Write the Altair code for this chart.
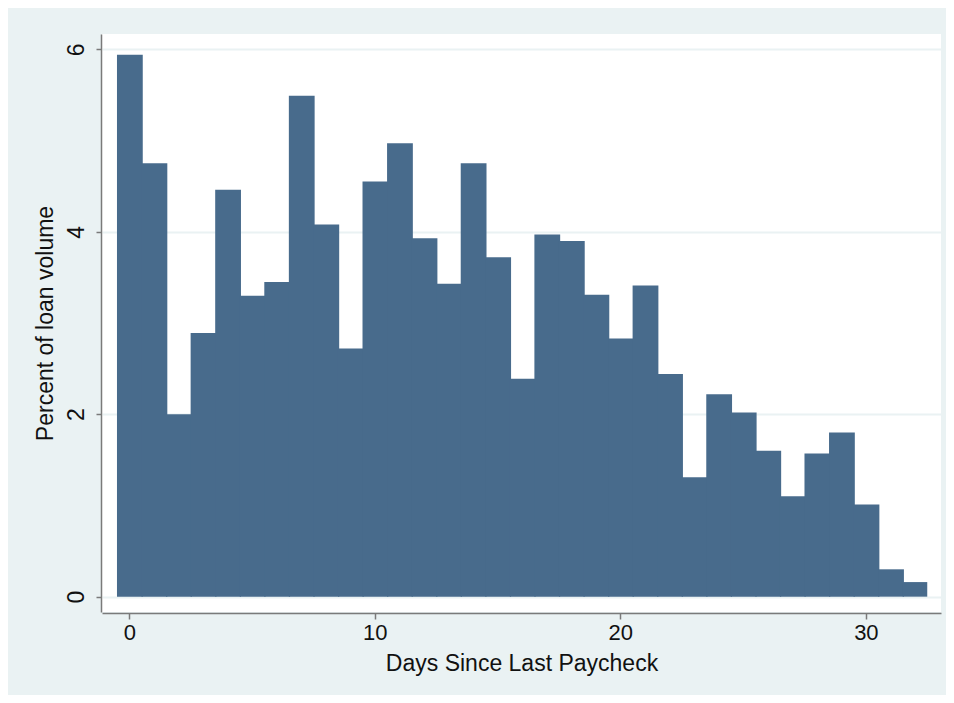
import altair as alt
import pandas as pd

# Days since last paycheck (histogram bins, width 1 day)
days = [0, 1, 2, 3, 4, 5, 6, 7, 8, 9, 10, 11, 12, 13, 14, 15, 16,
        17, 18, 19, 20, 21, 22, 23, 24, 25, 26, 27, 28, 29, 30, 31, 32]
# Percent of loan volume per day
pct = [5.94, 4.75, 2.00, 2.89, 4.46, 3.30, 3.45, 5.49, 4.08, 2.72, 4.55,
       4.97, 3.93, 3.43, 4.75, 3.72, 2.39, 3.97, 3.90, 3.31, 2.83, 3.41,
       2.44, 1.31, 2.22, 2.02, 1.60, 1.10, 1.57, 1.80, 1.01, 0.30, 0.16]

x_ticks = [0, 10, 20, 30]
y_ticks = [0, 2, 4, 6]

df = pd.DataFrame({"day": days, "pct": pct})
# bins of width 1 centred on each day; each bin slightly overlaps the next
# one so that no seam is visible between neighbouring bars
df["lo"] = df["day"] - 0.5
df["hi"] = df["day"] + 0.5
df.loc[df.index[:-1], "hi"] = df["hi"][:-1] + 0.05
df["base"] = 0.0

FONT = "Liberation Sans"
BG = "#EAF2F3"
BAR = "#486B8C"

bars = alt.Chart(df).mark_rect(
    fill=BAR, opacity=1, strokeWidth=0
).encode(
    x=alt.X("lo:Q",
            scale=alt.Scale(domain=[-1.11, 33.06], nice=False, zero=False),
            axis=alt.Axis(values=x_ticks, title="Days Since Last Paycheck",
                          grid=False, labelFontSize=22, titleFontSize=23,
                          labelPadding=3, titlePadding=9, tickSize=6,
                          offset=1)),
    x2="hi:Q",
    y=alt.Y("pct:Q",
            scale=alt.Scale(domain=[-0.168, 6.168], nice=False, zero=False),
            axis=alt.Axis(values=y_ticks, title="Percent of loan volume",
                          grid=True, gridColor=BG, gridWidth=2,
                          labelAngle=270, labelAlign="center",
                          labelBaseline="bottom", labelFontSize=23,
                          titleFontSize=23, labelPadding=8, titlePadding=8,
                          tickSize=5, offset=1)),
    y2="base:Q",
)

chart = bars.properties(
    width=839,
    height=578,
    background=BG,
    padding={"left": 94, "top": 26, "right": 5, "bottom": 83},
    autosize=alt.AutoSizeParams(type="none"),
).configure_view(
    fill="white", strokeWidth=0
).configure_axis(
    domainColor="#7a7a7a", domainWidth=1.5, tickColor="#7a7a7a",
    tickWidth=1.5, labelFont=FONT, titleFont=FONT, labelColor="#111111",
    titleColor="#111111", titleFontWeight="normal"
)

chart.save("out.html", embed_options={"renderer": "svg", "actions": False})
